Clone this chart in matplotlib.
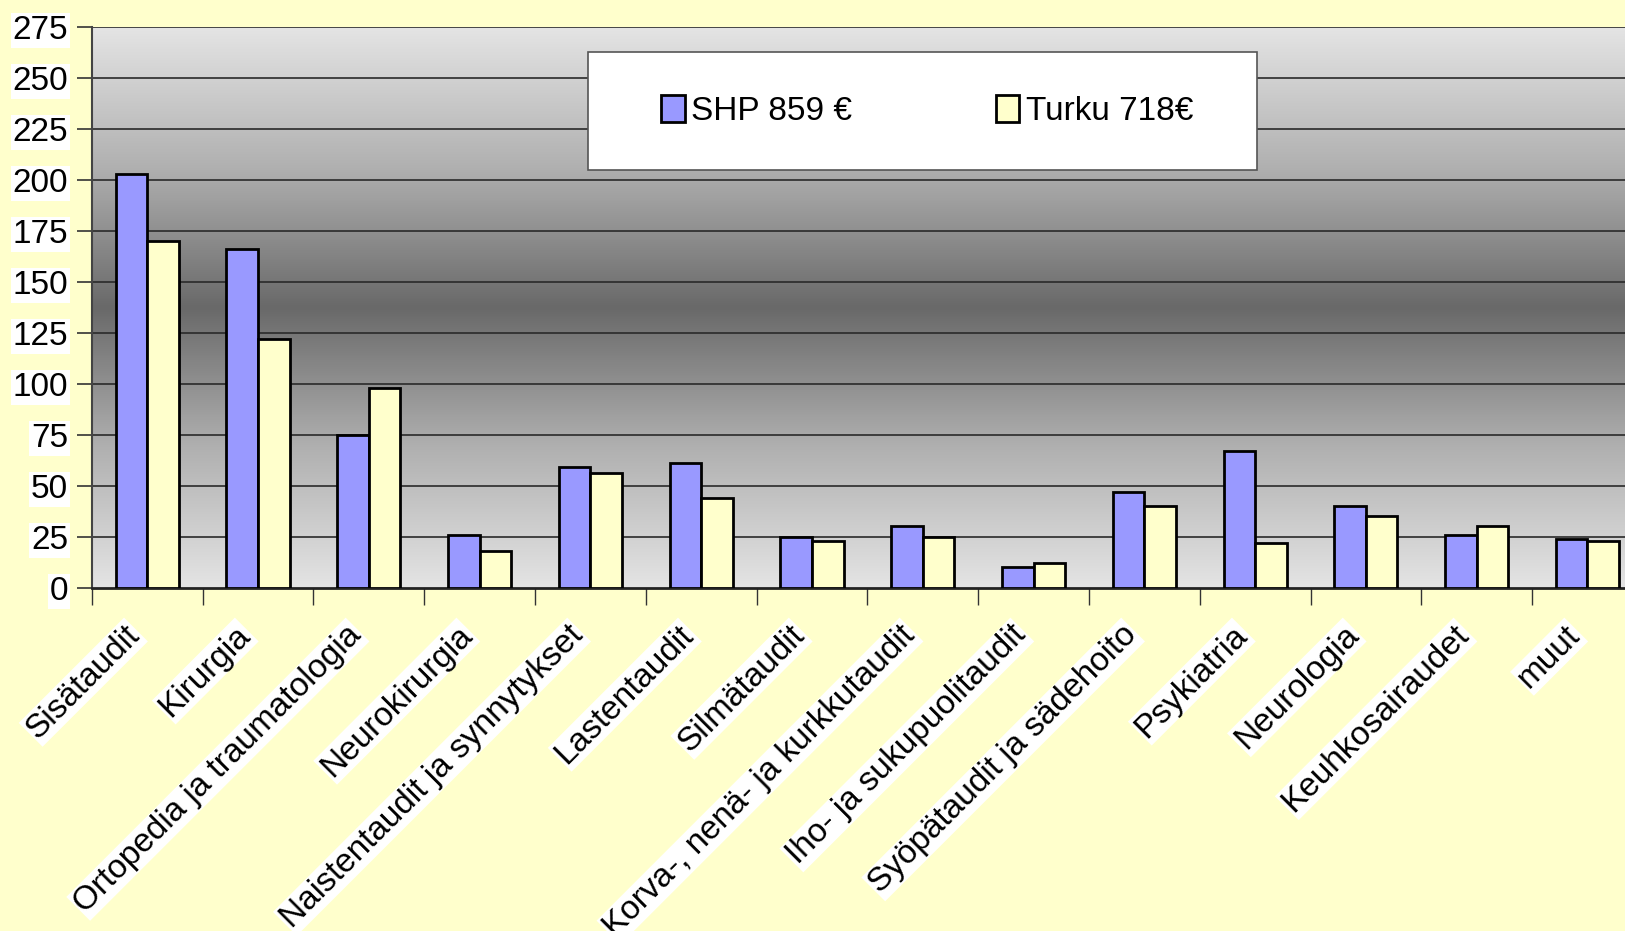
import numpy as np
import matplotlib.pyplot as plt
from matplotlib.colors import LinearSegmentedColormap
from matplotlib.patches import Rectangle

plt.rcParams['font.family'] = ['Liberation Sans', 'DejaVu Sans']

categories = ["Sisätaudit", "Kirurgia", "Ortopedia ja traumatologia", "Neurokirurgia",
              "Naistentaudit ja synnytykset", "Lastentaudit", "Silmätaudit",
              "Korva-, nenä- ja kurkkutaudit", "Iho- ja sukupuolitaudit",
              "Syöpätaudit ja sädehoito", "Psykiatria", "Neurologia",
              "Keuhkosairaudet", "muut"]
shp = [203, 166, 75, 26, 59, 61, 25, 30, 10, 47, 67, 40, 26, 24]
turku = [170, 122, 98, 18, 56, 44, 23, 25, 12, 40, 22, 35, 30, 23]
series_names = ["SHP 859 €", "Turku 718€"]
yticks = list(range(0, 276, 25))

fig = plt.figure(figsize=(16.25, 9.31), dpi=100)
fig.patch.set_facecolor('#ffffcc')
ax = fig.add_axes([0.0565, 0.3688, 0.9545, 0.6023])

x = np.arange(len(categories))
w = 0.285

# grey gradient background, dark in the middle
cmap = LinearSegmentedColormap.from_list('g', ['#e4e4e4', '#b0b0b0', '#696969', '#b0b0b0', '#e4e4e4'])
grad = np.linspace(0, 1, 256).reshape(-1, 1)
ax.imshow(grad, cmap=cmap, aspect='auto', extent=[-0.5, len(categories) - 0.5, 0, 275],
          origin='lower', zorder=0)

for v in yticks[1:]:
    ax.axhline(v, color='#2a2a2a', lw=1.2, zorder=1)

ax.bar(x - w / 2, shp, w, color='#9999ff', edgecolor='black', lw=2, zorder=3, label=series_names[0])
ax.bar(x + w / 2, turku, w, color='#ffffcc', edgecolor='black', lw=2, zorder=3, label=series_names[1])

ax.set_xlim(-0.5, len(categories) - 0.5)
ax.set_ylim(0, 275)
ax.set_yticks(yticks)
ax.set_xticks(np.arange(len(categories) + 1) - 0.5)
ax.set_xticklabels([])
ax.tick_params(axis='x', length=12, width=1, color='#333333', direction='out')
ax.tick_params(axis='y', length=11, width=1.2, color='#333333', pad=6, labelsize=24)
for lab in ax.get_yticklabels():
    lab.set_bbox(dict(facecolor='white', edgecolor='none', pad=1.5))

for i, c in enumerate(categories):
    ax.text(i - 0.11, -21, c, rotation=45, ha='right', va='center', rotation_mode='anchor',
            fontsize=24, bbox=dict(facecolor='white', edgecolor='none', pad=1), clip_on=False)

for s in ['top', 'right']:
    ax.spines[s].set_visible(False)
ax.spines['left'].set_color('#444444')
ax.spines['left'].set_linewidth(1.5)
ax.spines['bottom'].set_color('#222222')
ax.spines['bottom'].set_linewidth(2)

# legend box drawn separately, entries centred inside
box = Rectangle((0.3201, 0.745), 0.4313, 0.2108, transform=ax.transAxes, facecolor='white',
                edgecolor='#555555', lw=1.2, zorder=4)
ax.add_patch(box)
leg = ax.legend(ncol=2, loc='center', bbox_to_anchor=(0.5385, 0.8504),
                fontsize=24, frameon=False, handlelength=0.7, handleheight=0.9,
                handletextpad=0.2, columnspacing=4.3, borderpad=0, borderaxespad=0)
leg.set_zorder(5)

fig.savefig('out.png', dpi=100, facecolor=fig.get_facecolor())
